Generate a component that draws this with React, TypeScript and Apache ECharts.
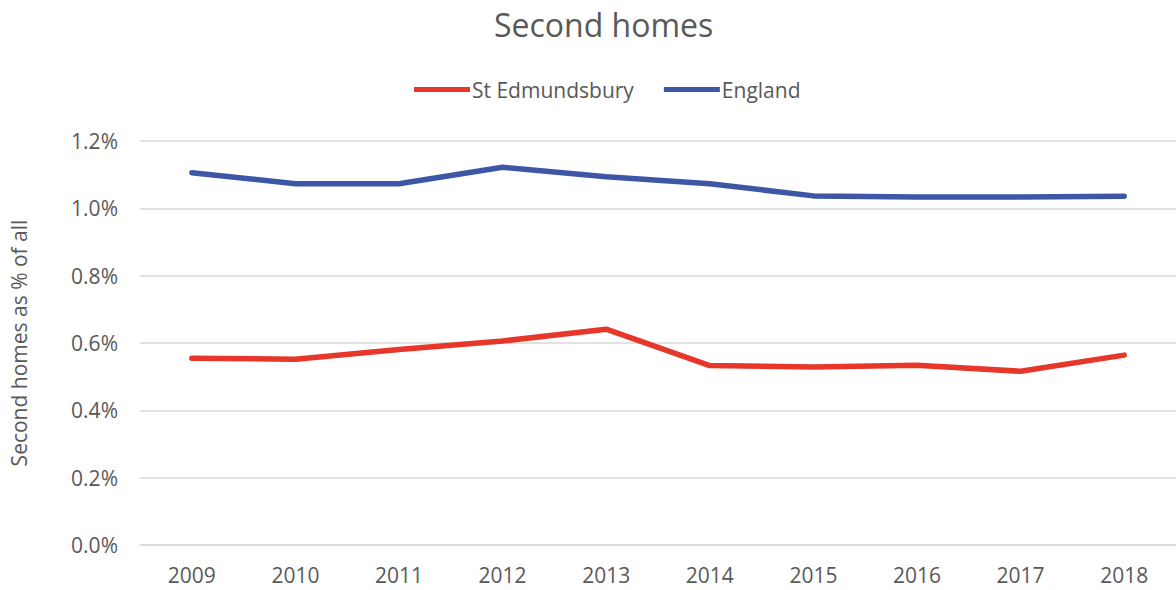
import React, { useEffect, useRef } from "react";
import * as echarts from "echarts";

const years = ["2009", "2010", "2011", "2012", "2013", "2014", "2015", "2016", "2017", "2018"];
const stEdmundsbury = [0.555, 0.552, 0.581, 0.606, 0.641, 0.533, 0.529, 0.534, 0.516, 0.564];
const england = [1.106, 1.073, 1.073, 1.122, 1.094, 1.073, 1.037, 1.034, 1.034, 1.036];
const yTicks = [0, 0.2, 0.4, 0.6, 0.8, 1.0, 1.2];

const FONT = "'Open Sans', 'Noto Sans', sans-serif";
const GRAY = "#595959";

export default function App() {
  const ref = useRef<HTMLDivElement>(null);
  useEffect(() => {
    if (!ref.current) return;
    const chart = echarts.init(ref.current, null, { renderer: "svg" });
    chart.setOption({
      animation: false,
      textStyle: { fontFamily: FONT },
      title: {
        text: "Second homes",
        left: 489,
        top: 3,
        textStyle: { fontSize: 32, fontWeight: "normal", color: GRAY, fontFamily: FONT },
      },
      legend: {
        top: 74,
        left: 409,
        itemWidth: 56,
        itemHeight: 5,
        itemGap: 30,
        icon: "rect",
        textStyle: { fontSize: 21, color: GRAY, fontFamily: FONT, padding: [0, 0, 0, -3] },
        data: ["St Edmundsbury", "England"],
      },
      grid: { left: 140, right: 0, top: 141, bottom: 45, containLabel: false },
      xAxis: {
        type: "category",
        data: years,
        boundaryGap: true,
        axisLine: { show: true, lineStyle: { color: "#d9d9d9", width: 1.5 } },
        axisTick: { show: false },
        axisLabel: { fontSize: 21, color: GRAY, margin: 19, fontFamily: FONT },
      },
      yAxis: {
        type: "value",
        min: yTicks[0],
        max: yTicks[yTicks.length - 1],
        interval: 0.2,
        name: "Second homes as % of all",
        nameLocation: "middle",
        nameGap: 111,
        nameTextStyle: { fontSize: 21, color: GRAY, fontFamily: FONT },
        axisLine: { show: false },
        axisTick: { show: false },
        splitLine: { lineStyle: { color: "#d9d9d9", width: 1.5 } },
        axisLabel: {
          fontSize: 21,
          color: GRAY,
          margin: 22,
          fontFamily: FONT,
          formatter: (v: number) => v.toFixed(1) + "%",
        },
      },
      series: [
        {
          name: "St Edmundsbury",
          type: "line",
          data: stEdmundsbury,
          showSymbol: false,
          symbol: "none",
          itemStyle: { color: "#E6372A" },
          lineStyle: { color: "#E6372A", width: 5.5, cap: "round", join: "round" },
        },
        {
          name: "England",
          type: "line",
          data: england,
          showSymbol: false,
          symbol: "none",
          itemStyle: { color: "#3D57A6" },
          lineStyle: { color: "#3D57A6", width: 5.5, cap: "round", join: "round" },
        },
      ],
    });
    return () => chart.dispose();
  }, []);
  return (
    <div
      ref={ref}
      style={{ position: "fixed", left: 0, top: 0, width: 1176, height: 590, background: "#fff" }}
    />
  );
}
